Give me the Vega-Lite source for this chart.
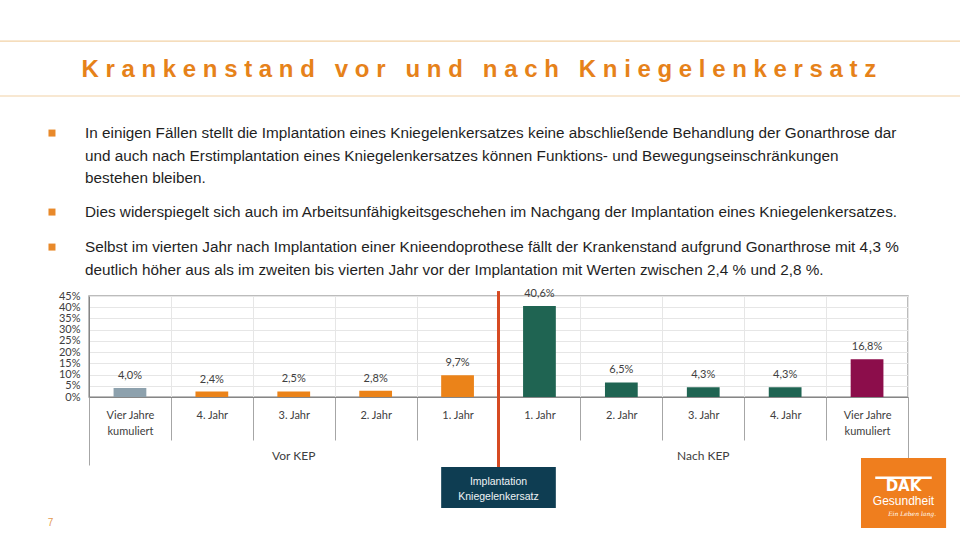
{
  "$schema": "https://vega.github.io/schema/vega-lite/v6.json",
  "width": 819,
  "height": 101,
  "autosize": {"type": "none"},
  "padding": {"left": 89, "top": 296, "right": 52, "bottom": 143},
  "background": "#FFFFFF",
  "config": {
    "locale": {"number": {"decimal": ",", "thousands": ".", "grouping": [3], "currency": ["", " €"]}},
    "view": {"stroke": "#A6A6A6", "strokeWidth": 1.5},
    "font": "Lato"
  },
  "datasets": {
    "bars": [
      {"key": "v0", "zeitraum": "Vor KEP", "label": "Vier Jahre kumuliert", "kat": "Vier Jahre vor KEP", "value": 0.040},
      {"key": "v1", "zeitraum": "Vor KEP", "label": "4. Jahr", "kat": "Jahr vor KEP", "value": 0.024},
      {"key": "v2", "zeitraum": "Vor KEP", "label": "3. Jahr", "kat": "Jahr vor KEP", "value": 0.025},
      {"key": "v3", "zeitraum": "Vor KEP", "label": "2. Jahr", "kat": "Jahr vor KEP", "value": 0.028},
      {"key": "v4", "zeitraum": "Vor KEP", "label": "1. Jahr", "kat": "Jahr vor KEP", "value": 0.097},
      {"key": "n1", "zeitraum": "Nach KEP", "label": "1. Jahr", "kat": "Jahr nach KEP", "value": 0.406},
      {"key": "n2", "zeitraum": "Nach KEP", "label": "2. Jahr", "kat": "Jahr nach KEP", "value": 0.065},
      {"key": "n3", "zeitraum": "Nach KEP", "label": "3. Jahr", "kat": "Jahr nach KEP", "value": 0.043},
      {"key": "n4", "zeitraum": "Nach KEP", "label": "4. Jahr", "kat": "Jahr nach KEP", "value": 0.043},
      {"key": "n5", "zeitraum": "Nach KEP", "label": "Vier Jahre kumuliert", "kat": "Vier Jahre nach KEP", "value": 0.168}
    ],
    "groups": [
      {"group": "Vor KEP"},
      {"group": "Nach KEP"}
    ],
    "marker": [
      {"key": "n1", "event": "Implantation Kniegelenkersatz"}
    ],
    "titel": [
      {"titel": "K r a n k e n s t a n d \u00a0 v o r \u00a0 u n d \u00a0 n a c h \u00a0 K n i e g e l e n k e r s a t z", "seite": "7"}
    ],
    "bullets": [
      {"absatz": 1, "zeilen": ["In einigen Fällen stellt die Implantation eines Kniegelenkersatzes keine abschließende Behandlung der Gonarthrose dar", "und auch nach Erstimplantation eines Kniegelenkersatzes können Funktions- und Bewegungseinschränkungen", "bestehen bleiben."]},
      {"absatz": 2, "zeilen": ["Dies widerspiegelt sich auch im Arbeitsunfähigkeitsgeschehen im Nachgang der Implantation eines Kniegelenkersatzes."]},
      {"absatz": 3, "zeilen": ["Selbst im vierten Jahr nach Implantation einer Knieendoprothese fällt der Krankenstand aufgrund Gonarthrose mit 4,3 %", "deutlich höher aus als im zweiten bis vierten Jahr vor der Implantation mit Werten zwischen 2,4 % und 2,8 %."]}
    ],
    "logo": [
      {"brand": "DAK", "name": "Gesundheit", "claim": "Ein Leben lang."}
    ]
  },
  "resolve": {
    "scale": {"x": "independent", "y": "independent"},
    "axis": {"x": "independent", "y": "independent"}
  },
  "layer": [
    {
      "layer": [
        {
          "data": {"name": "bars"},
          "mark": {"type": "bar", "width": {"band": 0.4}},
          "encoding": {
            "x": {
              "field": "key",
              "type": "nominal",
              "sort": null,
              "scale": {"type": "band", "domain": ["v0", "v1", "v2", "v3", "v4", "n1", "n2", "n3", "n4", "n5"], "paddingInner": 0, "paddingOuter": 0},
              "axis": {
                "orient": "bottom",
                "title": null,
                "labelAngle": 0,
                "labelExpr": "datum.value == 'v0' || datum.value == 'n5' ? ['Vier Jahre', 'kumuliert'] : (datum.value == 'v1' || datum.value == 'n4' ? '4. Jahr' : (datum.value == 'v2' || datum.value == 'n3' ? '3. Jahr' : (datum.value == 'v3' || datum.value == 'n2' ? '2. Jahr' : (datum.value == 'v4' || datum.value == 'n1' ? '1. Jahr' : ''))))",
                "labelFont": "Lato",
                "labelFontSize": 11,
                "labelColor": "#404040",
                "labelLineHeight": 16,
                "labelBaseline": "top",
                "labelPadding": -31,
                "tickBand": "extent",
                "tickSize": 43,
                "tickColor": "#A6A6A6",
                "domainColor": "#868686",
                "grid": true,
                "gridColor": "#E6E6E6"
              }
            },
            "y": {
              "field": "value",
              "type": "quantitative",
              "scale": {"domain": [0, 0.45], "nice": false},
              "axis": {
                "orient": "left",
                "values": [0, 0.05, 0.1, 0.15, 0.2, 0.25, 0.3, 0.35, 0.4, 0.45],
                "labelOverlap": false,
                "format": ".0%",
                "labelFont": "Lato",
                "labelFontSize": 11,
                "labelColor": "#404040",
                "labelPadding": 9,
                "ticks": false,
                "domainColor": "#868686",
                "grid": true,
                "gridColor": "#E6E6E6",
                "title": null
              }
            },
            "color": {
              "field": "kat",
              "type": "nominal",
              "scale": {
                "domain": ["Vier Jahre vor KEP", "Jahr vor KEP", "Jahr nach KEP", "Vier Jahre nach KEP"],
                "range": ["#8DA1AD", "#EB8319", "#1F6452", "#8C0D4B"]
              },
              "legend": null
            }
          }
        },
        {
          "data": {"name": "bars"},
          "mark": {"type": "text", "baseline": "bottom", "dy": -7, "font": "Lato", "fontSize": 11, "color": "#404040"},
          "encoding": {
            "x": {"field": "key", "type": "nominal", "sort": null},
            "y": {
              "field": "value",
              "type": "quantitative",
              "axis": {
                "orient": "left",
                "values": [0, 0.05, 0.1, 0.15, 0.2, 0.25, 0.3, 0.35, 0.4, 0.45],
                "labelOverlap": false,
                "format": ".0%",
                "labelFont": "Lato",
                "labelFontSize": 11,
                "labelColor": "#404040",
                "labelPadding": 9,
                "ticks": false,
                "domainColor": "#868686",
                "grid": true,
                "gridColor": "#E6E6E6",
                "title": null
              }
            },
            "text": {"field": "value", "type": "quantitative", "format": ".1%"}
          }
        }
      ]
    },
    {
      "layer": [
        {
          "data": {"name": "marker"},
          "mark": {"type": "rule", "color": "#D64A22", "strokeWidth": 3},
          "encoding": {
            "x": {"field": "key", "type": "nominal", "bandPosition": 0, "axis": null, "scale": {"type": "band", "domain": ["v0", "v1", "v2", "v3", "v4", "n1", "n2", "n3", "n4", "n5"], "paddingInner": 0, "paddingOuter": 0}},
            "y": {"datum": 0.472, "axis": null, "scale": {"domain": [0, 0.45], "nice": false}},
            "y2": {"datum": -0.312}
          }
        },
        {
          "data": {"name": "marker"},
          "mark": {"type": "rect", "color": "#0E3D52"},
          "encoding": {
            "x": {"datum": "v4", "bandPosition": 0.3, "axis": null},
            "x2": {"datum": "n1", "bandPosition": 0.7},
            "y": {"datum": -0.312, "axis": null},
            "y2": {"datum": -0.495}
          }
        },
        {
          "data": {"name": "marker"},
          "mark": {"type": "text", "color": "#EEF3F5", "font": "Liberation Sans", "fontSize": 10.5, "lineHeight": 15, "align": "center", "baseline": "middle"},
          "encoding": {
            "x": {"field": "key", "type": "nominal", "bandPosition": 0, "axis": null},
            "y": {"datum": -0.379, "axis": null},
            "text": {"value": ["Implantation", "Kniegelenkersatz"]}
          }
        },
        {
          "data": {"name": "titel"},
          "mark": {"type": "rule", "color": "#F2D2A6", "strokeWidth": 1.2},
          "encoding": {
            "x": {"datum": "v0", "bandPosition": -1.09, "axis": null},
            "x2": {"datum": "n5", "bandPosition": 1.64},
            "y": {"datum": 1.586, "axis": null}
          }
        },
        {
          "data": {"name": "titel"},
          "mark": {"type": "rule", "color": "#F2D2A6", "strokeWidth": 1.2},
          "encoding": {
            "x": {"datum": "v0", "bandPosition": -1.09, "axis": null},
            "x2": {"datum": "n5", "bandPosition": 1.64},
            "y": {"datum": 1.341, "axis": null}
          }
        },
        {
          "data": {"name": "titel"},
          "mark": {"type": "text", "color": "#E6821A", "font": "Liberation Sans", "fontWeight": "bold", "fontSize": 24, "align": "center", "baseline": "middle"},
          "encoding": {
            "x": {"datum": "v4", "bandPosition": 0.76, "axis": null},
            "y": {"datum": 1.457, "axis": null},
            "text": {"field": "titel"}
          }
        },
        {
          "data": {"name": "titel"},
          "mark": {"type": "text", "color": "#E39A52", "font": "Liberation Sans", "fontSize": 10, "align": "center", "baseline": "middle"},
          "encoding": {
            "x": {"datum": "v0", "bandPosition": -0.47, "axis": null},
            "y": {"datum": -0.561, "axis": null},
            "text": {"field": "seite"}
          }
        },
        {
          "data": {"name": "bullets"},
          "transform": [{"filter": "datum.absatz == 1"}],
          "mark": {"type": "point", "shape": "square", "filled": true, "size": 49, "color": "#E8892A", "opacity": 1},
          "encoding": {"x": {"datum": "v0", "bandPosition": -0.452, "axis": null}, "y": {"datum": 1.176, "axis": null}}
        },
        {
          "data": {"name": "bullets"},
          "transform": [{"filter": "datum.absatz == 1"}],
          "mark": {"type": "text", "color": "#1F1F1F", "font": "Liberation Sans", "fontSize": 15.3, "lineHeight": 22.5, "align": "left", "baseline": "middle"},
          "encoding": {"x": {"datum": "v0", "bandPosition": -0.049, "axis": null}, "y": {"datum": 1.176, "axis": null}, "text": {"field": "zeilen"}}
        },
        {
          "data": {"name": "bullets"},
          "transform": [{"filter": "datum.absatz == 2"}],
          "mark": {"type": "point", "shape": "square", "filled": true, "size": 49, "color": "#E8892A", "opacity": 1},
          "encoding": {"x": {"datum": "v0", "bandPosition": -0.452, "axis": null}, "y": {"datum": 0.824, "axis": null}}
        },
        {
          "data": {"name": "bullets"},
          "transform": [{"filter": "datum.absatz == 2"}],
          "mark": {"type": "text", "color": "#1F1F1F", "font": "Liberation Sans", "fontSize": 15.3, "lineHeight": 22.5, "align": "left", "baseline": "middle"},
          "encoding": {"x": {"datum": "v0", "bandPosition": -0.049, "axis": null}, "y": {"datum": 0.824, "axis": null}, "text": {"field": "zeilen"}}
        },
        {
          "data": {"name": "bullets"},
          "transform": [{"filter": "datum.absatz == 3"}],
          "mark": {"type": "point", "shape": "square", "filled": true, "size": 49, "color": "#E8892A", "opacity": 1},
          "encoding": {"x": {"datum": "v0", "bandPosition": -0.452, "axis": null}, "y": {"datum": 0.668, "axis": null}}
        },
        {
          "data": {"name": "bullets"},
          "transform": [{"filter": "datum.absatz == 3"}],
          "mark": {"type": "text", "color": "#1F1F1F", "font": "Liberation Sans", "fontSize": 15.3, "lineHeight": 23, "align": "left", "baseline": "middle"},
          "encoding": {"x": {"datum": "v0", "bandPosition": -0.049, "axis": null}, "y": {"datum": 0.668, "axis": null}, "text": {"field": "zeilen"}}
        },
        {
          "data": {"name": "logo"},
          "mark": {"type": "rect", "color": "#EF7E1E"},
          "encoding": {
            "x": {"datum": "n5", "bandPosition": 0.426, "axis": null},
            "x2": {"datum": "n5", "bandPosition": 1.465},
            "y": {"datum": -0.272, "axis": null},
            "y2": {"datum": -0.584}
          }
        },
        {
          "data": {"name": "logo"},
          "mark": {"type": "rule", "color": "#FFFFFF", "strokeWidth": 2.5},
          "encoding": {
            "x": {"datum": "n5", "bandPosition": 0.6, "axis": null},
            "x2": {"datum": "n5", "bandPosition": 1.29},
            "y": {"datum": -0.36, "axis": null}
          }
        },
        {
          "data": {"name": "logo"},
          "mark": {"type": "text", "color": "#FFFFFF", "font": "DejaVu Sans", "fontWeight": "bold", "fontSize": 15, "align": "center", "baseline": "middle"},
          "encoding": {
            "x": {"datum": "n5", "bandPosition": 0.945, "axis": null},
            "y": {"datum": -0.395, "axis": null},
            "text": {"field": "brand"}
          }
        },
        {
          "data": {"name": "logo"},
          "mark": {"type": "text", "color": "#FFFFFF", "font": "Liberation Sans", "fontSize": 12, "align": "center", "baseline": "middle"},
          "encoding": {
            "x": {"datum": "n5", "bandPosition": 0.945, "axis": null},
            "y": {"datum": -0.465, "axis": null},
            "text": {"field": "name"}
          }
        },
        {
          "data": {"name": "logo"},
          "mark": {"type": "text", "color": "#FFFFFF", "font": "DejaVu Serif", "fontStyle": "italic", "fontSize": 6, "align": "center", "baseline": "middle"},
          "encoding": {
            "x": {"datum": "n5", "bandPosition": 1.05, "axis": null},
            "y": {"datum": -0.522, "axis": null},
            "text": {"field": "claim"}
          }
        }
      ]
    },
    {
      "data": {"name": "groups"},
      "mark": {"type": "text", "font": "Lato", "fontSize": 12, "color": "#404040", "baseline": "middle"},
      "encoding": {
        "x": {
          "field": "group",
          "type": "nominal",
          "sort": null,
          "scale": {"type": "band", "domain": ["Vor KEP", "Nach KEP"], "paddingInner": 0, "paddingOuter": 0},
          "axis": {
            "orient": "bottom",
            "title": null,
            "labels": false,
            "domain": false,
            "grid": false,
            "ticks": true,
            "tickBand": "extent",
            "tickSize": 68,
            "tickColor": "#A6A6A6"
          }
        },
        "y": {"datum": -0.263, "axis": null, "scale": {"domain": [0, 0.45], "nice": false}},
        "text": {"field": "group"}
      }
    }
  ]
}
